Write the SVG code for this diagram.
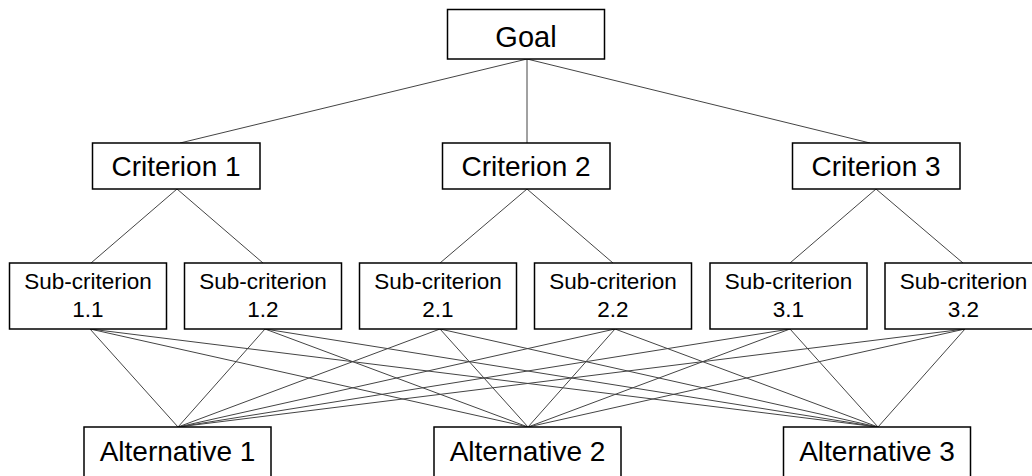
<svg xmlns="http://www.w3.org/2000/svg" width="1032" height="476" viewBox="0 0 1032 476">
<style>
.box{fill:#fff;stroke:#000;stroke-width:1.5}
.t{font-family:"Liberation Sans",Arial,sans-serif;fill:#000;text-anchor:middle}
.big{font-size:29px}
.mid{font-size:28px}
.sm{font-size:22.5px}
.c line{stroke:#444;stroke-width:1}
</style>
<rect width="1032" height="476" fill="#fff"/>
<g class="c" id="connectors">
<line x1="527" y1="59" x2="180" y2="143"/>
<line x1="527" y1="59" x2="527" y2="143"/>
<line x1="527" y1="59" x2="870" y2="143"/>
<line x1="177" y1="189" x2="91" y2="263"/>
<line x1="177" y1="189" x2="263" y2="263"/>
<line x1="527" y1="189" x2="440" y2="263"/>
<line x1="527" y1="189" x2="613" y2="263"/>
<line x1="876" y1="189" x2="790" y2="263"/>
<line x1="876" y1="189" x2="963" y2="263"/>
<line x1="90" y1="329" x2="178" y2="427"/>
<line x1="90" y1="329" x2="528" y2="427"/>
<line x1="90" y1="329" x2="878" y2="427"/>
<line x1="265" y1="329" x2="178" y2="427"/>
<line x1="265" y1="329" x2="528" y2="427"/>
<line x1="265" y1="329" x2="878" y2="427"/>
<line x1="440" y1="329" x2="178" y2="427"/>
<line x1="440" y1="329" x2="528" y2="427"/>
<line x1="440" y1="329" x2="878" y2="427"/>
<line x1="615" y1="329" x2="178" y2="427"/>
<line x1="615" y1="329" x2="528" y2="427"/>
<line x1="615" y1="329" x2="878" y2="427"/>
<line x1="790" y1="329" x2="178" y2="427"/>
<line x1="790" y1="329" x2="528" y2="427"/>
<line x1="790" y1="329" x2="878" y2="427"/>
<line x1="965" y1="329" x2="178" y2="427"/>
<line x1="965" y1="329" x2="528" y2="427"/>
<line x1="965" y1="329" x2="878" y2="427"/>
</g>
<g id="goal"><rect class="box" x="447.5" y="9.5" width="157" height="49.5"/><text class="t big" x="526" y="47">Goal</text></g>
<g id="crit1"><rect class="box" x="92.5" y="143" width="167.5" height="46"/><text class="t mid" x="176" y="176">Criterion 1</text></g>
<g id="crit2"><rect class="box" x="442.5" y="143" width="167.5" height="46"/><text class="t mid" x="526" y="176">Criterion 2</text></g>
<g id="crit3"><rect class="box" x="792.5" y="143" width="167.5" height="46"/><text class="t mid" x="876" y="176">Criterion 3</text></g>
<g id="sub11"><rect class="box" x="9.5" y="263" width="157" height="66"/><text class="t sm" x="88" y="289">Sub-criterion</text><text class="t sm" x="88" y="317">1.1</text></g>
<g id="sub12"><rect class="box" x="184.5" y="263" width="157" height="66"/><text class="t sm" x="263" y="289">Sub-criterion</text><text class="t sm" x="263" y="317">1.2</text></g>
<g id="sub21"><rect class="box" x="359.5" y="263" width="157" height="66"/><text class="t sm" x="438" y="289">Sub-criterion</text><text class="t sm" x="438" y="317">2.1</text></g>
<g id="sub22"><rect class="box" x="534.5" y="263" width="157" height="66"/><text class="t sm" x="613" y="289">Sub-criterion</text><text class="t sm" x="613" y="317">2.2</text></g>
<g id="sub31"><rect class="box" x="710" y="263" width="157" height="66"/><text class="t sm" x="788.5" y="289">Sub-criterion</text><text class="t sm" x="788.5" y="317">3.1</text></g>
<g id="sub32"><rect class="box" x="885" y="263" width="157" height="66"/><text class="t sm" x="963.5" y="289">Sub-criterion</text><text class="t sm" x="963.5" y="317">3.2</text></g>
<g id="alt1"><rect class="box" x="84" y="427" width="187" height="60"/><text class="t mid" x="177.5" y="461">Alternative 1</text></g>
<g id="alt2"><rect class="box" x="434" y="427" width="187" height="60"/><text class="t mid" x="527.5" y="461">Alternative 2</text></g>
<g id="alt3"><rect class="box" x="783.5" y="427" width="187" height="60"/><text class="t mid" x="877" y="461">Alternative 3</text></g>
</svg>
